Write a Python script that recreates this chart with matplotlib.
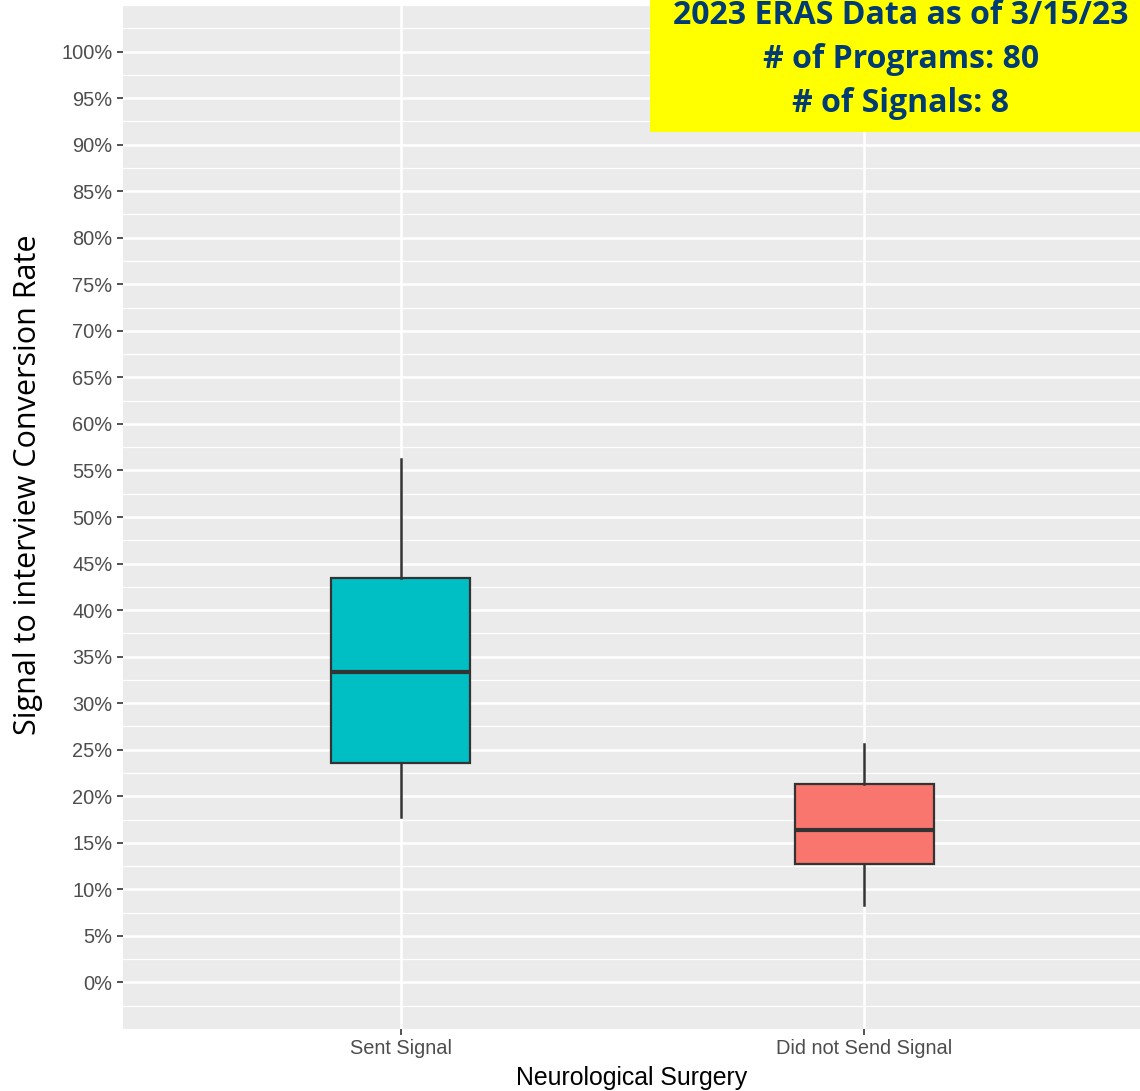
import numpy as np
import matplotlib
matplotlib.use("Agg")
from matplotlib import pyplot as plt
from matplotlib.ticker import MultipleLocator, FixedLocator, PercentFormatter

# box stats (fractions)
groups = ["Sent Signal", "Did not Send Signal"]
whislo = [0.178, 0.083]
q1 = [0.236, 0.1275]
med = [0.334, 0.164]
q3 = [0.434, 0.213]
whishi = [0.562, 0.256]
fills = ["#00BFC4", "#F8766D"]
yticks = np.arange(0, 101, 5) / 100

stats = []
for i, g in enumerate(groups):
    stats.append({"label": g, "whislo": whislo[i], "q1": q1[i], "med": med[i],
                  "q3": q3[i], "whishi": whishi[i], "fliers": []})

W, H = 1140, 1091
fig = plt.figure(figsize=(W / 100, H / 100), dpi=100)
ax = fig.add_axes([0.1079, 0.0568, 0.8939, 0.9386])
ax.set_facecolor("#EBEBEB")
for s in ax.spines.values():
    s.set_visible(False)

# grid
ax.yaxis.set_major_locator(FixedLocator(yticks))
ax.yaxis.set_minor_locator(MultipleLocator(0.025))
ax.yaxis.set_major_formatter(PercentFormatter(1.0, decimals=0))
ax.grid(which="major", color="white", linewidth=1.8)
ax.grid(which="minor", axis="y", color="white", linewidth=0.9)
ax.set_axisbelow(True)

bp = ax.bxp(stats, positions=[1, 2], widths=0.3, patch_artist=True,
            showcaps=False, showfliers=False,
            boxprops=dict(edgecolor="#333333", linewidth=1.6),
            whiskerprops=dict(color="#333333", linewidth=1.8),
            medianprops=dict(color="#333333", linewidth=3))
for patch, c in zip(bp["boxes"], fills):
    patch.set_facecolor(c)

ax.set_xlim(0.4, 2.6)
ax.set_ylim(-0.05, 1.05)
ax.set_xticks([1, 2])
ax.set_xticklabels(groups)
ax.tick_params(which="minor", length=0)
ax.tick_params(which="major", length=4, width=1.2, color="#333333",
               labelcolor="#4D4D4D", labelsize=14.4)
ax.tick_params(axis="x", pad=3)
for lab in ax.get_xticklabels() + ax.get_yticklabels():
    lab.set_family("Liberation Sans")

# axis titles
fig.text(632 / W, 1 - 1078 / H, "Neurological Surgery", family="Liberation Sans",
         fontsize=17.9, color="black", ha="center", va="center")
fig.text(28 / W, 1 - 485 / H, "Signal to interview Conversion Rate", family="Open Sans",
         fontsize=22, color="black", ha="center", va="center", rotation=90)

# yellow note box
fig.patches.append(plt.Rectangle((650 / W, 1 - 132 / H), 490 / W, 132 / H,
                                 transform=fig.transFigure, facecolor="#FFFF00",
                                 edgecolor="none", zorder=5))
note = ["2023 ERAS Data as of 3/15/23", "# of Programs: 80", "# of Signals: 8"]
for i, line in enumerate(note):
    fig.text(901 / W, 1 - (15 + 44 * i) / H, line, ha="center", va="center",
             family="Open Sans", fontweight="bold", fontsize=23, color="#003B73",
             zorder=6)

fig.savefig("out.png", dpi=100)
